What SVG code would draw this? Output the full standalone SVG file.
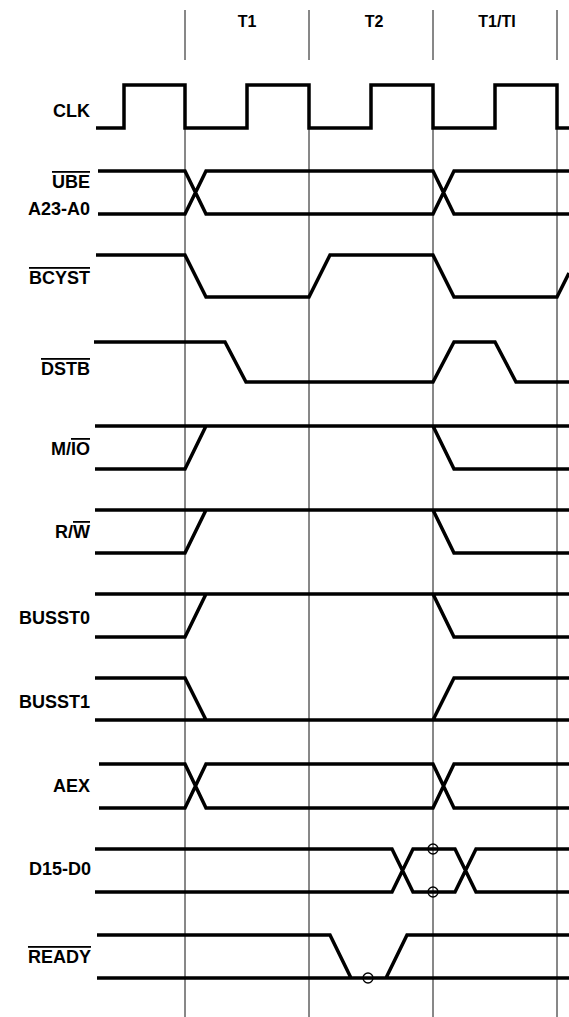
<svg xmlns="http://www.w3.org/2000/svg" width="569" height="1017" viewBox="0 0 569 1017">
<style>
.bg{fill:#ffffff}
.grid{stroke:#111;stroke-width:1;fill:none}
.sig{stroke:#000;stroke-width:3.5;fill:none;stroke-linejoin:miter;stroke-linecap:butt}
.mark{stroke:#000;stroke-width:1.3;fill:none}
.lbl{font-family:"Liberation Sans",Arial,sans-serif;font-weight:bold;font-size:18px;fill:#000;text-anchor:end}
.hdr{font-family:"Liberation Sans",Arial,sans-serif;font-weight:bold;font-size:16px;fill:#000;text-anchor:middle}
.ov{text-decoration:overline}
</style>
<rect class="bg" x="0" y="0" width="569" height="1017"/>
<g id="grid">
<path class="grid" d="M185,10V60M309,10V60M433,10V60M557,10V60"/>
<path class="grid" d="M185,128V1017M309,128V1017M433,128V1017M557,128V1017"/>
</g>
<g id="headers">
<text class="hdr" x="247" y="27">T1</text>
<text class="hdr" x="374" y="27">T2</text>
<text class="hdr" x="497" y="27">T1/TI</text>
</g>
<g id="clk">
<text class="lbl" x="90" y="117">CLK</text>
<path class="sig" d="M96,128H124V85H185V128H247V85H309V128H371V85H433V128H495V85H557V128H569"/>
</g>
<g id="ube-addr">
<text class="lbl" x="90" y="188"><tspan class="ov">UBE</tspan></text>
<text class="lbl" x="90" y="215">A23-A0</text>
<path class="sig" d="M98,171H185L206,214H433L454,171H569M98,214H185L206,171H433L454,214H569"/>
</g>
<g id="bcyst">
<text class="lbl" x="90" y="284"><tspan class="ov">BCYST</tspan></text>
<path class="sig" d="M96,255H185L206,297H309L330,255H433L454,297H557L569,273"/>
</g>
<g id="dstb">
<text class="lbl" x="90" y="375"><tspan class="ov">DSTB</tspan></text>
<path class="sig" d="M94,342H225L246,382H433L454,342H495L516,382H569"/>
</g>
<g id="mio">
<text class="lbl" x="90" y="455">M/<tspan class="ov">IO</tspan></text>
<path class="sig" d="M95,426H569M95,469H185L206,426M433,426L454,469H569"/>
</g>
<g id="rw">
<text class="lbl" x="90" y="538">R/<tspan class="ov">W</tspan></text>
<path class="sig" d="M95,510H569M95,553H185L206,510M433,510L454,553H569"/>
</g>
<g id="busst0">
<text class="lbl" x="90" y="624">BUSST0</text>
<path class="sig" d="M95,594H569M95,637H185L206,594M433,594L454,637H569"/>
</g>
<g id="busst1">
<text class="lbl" x="90" y="708">BUSST1</text>
<path class="sig" d="M95,720H569M95,678H185L206,720M433,720L454,678H569"/>
</g>
<g id="aex">
<text class="lbl" x="90" y="792">AEX</text>
<path class="sig" d="M99,764H185L206,808H433L454,764H569M99,808H185L206,764H433L454,808H569"/>
</g>
<g id="data">
<text class="lbl" x="91" y="875">D15-D0</text>
<path class="sig" d="M95,849H392L413,892H455L476,849H569M95,892H392L413,849H455L476,892H569"/>
<circle class="mark" cx="433" cy="849" r="5"/>
<circle class="mark" cx="433" cy="892" r="5"/>
</g>
<g id="ready">
<text class="lbl" x="91" y="963"><tspan class="ov">READY</tspan></text>
<path class="sig" d="M97,978H569M97,935H330L351,978M386,978L407,935H569"/>
<circle class="mark" cx="368" cy="978" r="5"/>
</g>
</svg>
